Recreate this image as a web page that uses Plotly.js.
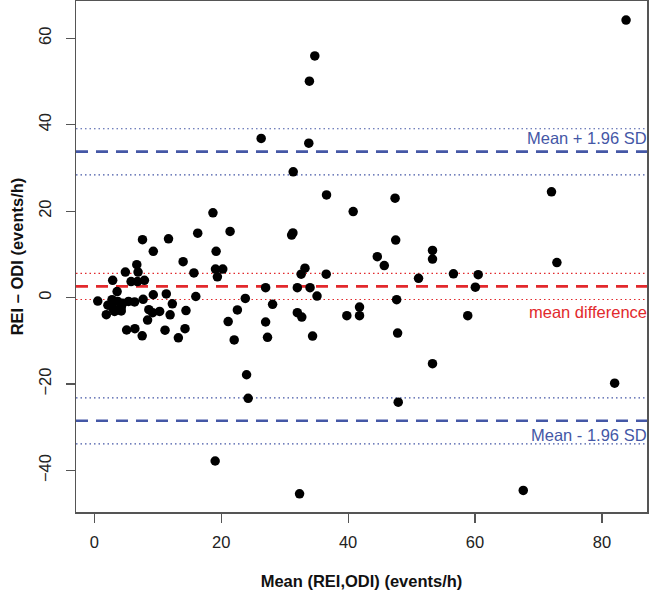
<!DOCTYPE html>
<html>
<head>
<meta charset="utf-8">
<script src="https://cdn.plot.ly/plotly-3.0.1.min.js"></script>
<style>html,body{margin:0;padding:0;background:#fff}</style>
</head>
<body>
<div id="chart" style="width:649px;height:592px"></div>
<script>
// Mean of REI and ODI (events/h)
const meanVals = [
  0.55, 1.9, 2.15, 2.8, 2.95, 3.2, 3.7, 4.25, 4.25, 4.5, 5.4, 6.35, 7.7,
  2.9, 3.6, 4.9, 5.8, 6.8, 7.9, 6.9, 6.7, 7.6, 9.3, 11.7, 14.0, 15.7, 16.3,
  9.3, 11.35, 16.0, 12.3, 8.6, 9.2, 10.3, 11.95, 14.45, 8.4, 5.1, 6.4, 7.55,
  11.15, 13.25, 14.3,
  18.7, 21.4, 19.2, 19.1, 20.25, 19.4, 19.05, 21.1, 22.05, 22.55, 23.8, 24.0, 24.25,
  26.3, 27.0, 27.0, 27.3, 28.1, 31.1, 31.3, 31.35, 32.0, 32.6, 33.2, 34.0, 35.1,
  32.0, 32.7, 34.4, 32.35, 33.8, 33.9, 34.75, 36.6, 36.55,
  40.8, 39.8, 41.8, 41.8, 44.6, 45.7, 47.4, 47.5, 47.65, 47.8, 47.9,
  51.1, 53.3, 53.3, 53.3, 56.6, 58.85, 60.5, 60.05, 67.6, 72.05, 72.9, 82.0, 83.8
];
// Difference REI - ODI (events/h)
const diffVals = [
  -0.8, -3.95, -1.75, -0.5, -2.5, -3.2, -0.9, -2.3, -3.1, -1.3, -0.9, -1.0, -0.4,
  4.0, 1.4, 5.9, 3.7, 3.7, 4.0, 5.9, 7.6, 13.4, 10.7, 13.6, 8.3, 5.7, 14.9,
  0.65, 0.85, 0.25, -1.45, -2.8, -3.5, -3.2, -4.0, -3.0, -5.2, -7.5, -7.2, -8.85,
  -7.55, -9.3, -7.2,
  19.6, 15.3, 10.7, 6.6, 6.6, 4.8, -37.8, -5.55, -9.8, -2.85, -0.2, -17.85, -23.3,
  36.8, 2.3, -5.65, -9.2, -1.55, 14.45, 14.95, 29.1, 2.3, 5.4, 6.8, 2.3, 0.35,
  -3.5, -4.5, -8.9, -45.4, 35.7, 50.05, 55.9, 23.75, 5.4,
  19.9, -4.2, -4.2, -2.2, 9.45, 7.4, 23.0, 13.3, -0.5, -8.2, -24.2,
  4.45, 10.9, 8.9, -15.3, 5.5, -4.2, 5.3, 2.4, -44.6, 24.45, 8.1, -19.8, 64.2
];

// Agreement statistics
const meanDiff = 2.6;
const meanCI = [-0.45, 5.6];
const upperLoA = 33.75;
const upperCI = [28.4, 39.05];
const lowerLoA = -28.5;
const lowerCI = [-33.85, -23.2];

const labelUpper = "Mean + 1.96 SD";
const labelMean = "mean difference";
const labelLower = "Mean - 1.96 SD";

const blue = "#4457a6";
const red = "#e2292c";

function hline(y, color, kind) {
  return {
    type: "line", xref: "paper", x0: 0, x1: 1, yref: "y", y0: y, y1: y,
    line: kind === "dash"
      ? {color: color, width: 2.6, dash: "12px,8px"}
      : {color: color, width: 1.2, dash: "1.5px,3px"},
    layer: "below"
  };
}

const shapes = [
  hline(upperCI[0], blue, "dot"), hline(upperCI[1], blue, "dot"), hline(upperLoA, blue, "dash"),
  hline(lowerCI[0], blue, "dot"), hline(lowerCI[1], blue, "dot"), hline(lowerLoA, blue, "dash"),
  hline(meanCI[0], red, "dot"), hline(meanCI[1], red, "dot"), hline(meanDiff, red, "dash")
];

const font = "Liberation Sans, Arial, Helvetica, sans-serif";

const annotations = [
  {xref: "paper", x: 1, xanchor: "right", xshift: 2, yref: "y", y: upperLoA, yanchor: "bottom", yshift: 3,
   text: labelUpper, showarrow: false, font: {family: font, size: 16.5, color: blue}},
  {xref: "paper", x: 1, xanchor: "right", xshift: 2, yref: "y", y: meanCI[0], yanchor: "top", yshift: -1,
   text: labelMean, showarrow: false, font: {family: font, size: 16.5, color: red}},
  {xref: "paper", x: 1, xanchor: "right", xshift: 2, yref: "y", y: lowerLoA, yanchor: "top", yshift: -3,
   text: labelLower, showarrow: false, font: {family: font, size: 16.5, color: blue}}
];

const trace = {
  x: meanVals, y: diffVals, type: "scatter", mode: "markers",
  marker: {color: "#000", size: 9.5, symbol: "circle"},
  hoverinfo: "x+y"
};

const axisCommon = {
  showgrid: false, zeroline: false, showline: true, mirror: true,
  linecolor: "#555", linewidth: 1.5,
  ticks: "outside", ticklen: 9, tickwidth: 1.2, tickcolor: "#555",
  tickfont: {family: font, size: 16.5, color: "#222"}
};

const layout = {
  width: 649, height: 592,
  margin: {l: 76, r: 2, t: 1, b: 80},
  paper_bgcolor: "#fff", plot_bgcolor: "#fff",
  showlegend: false,
  xaxis: Object.assign({}, axisCommon, {
    range: [-2.88, 87.1], tickvals: [0, 20, 40, 60, 80], ticklabelstandoff: 6,
    title: {text: "<b>Mean (REI,ODI) (events/h)</b>", standoff: 25,
            font: {family: font, size: 16.5, color: "#111"}}
  }),
  yaxis: Object.assign({}, axisCommon, {
    range: [-49.6, 68.6], tickvals: [-40, -20, 0, 20, 40, 60], tickangle: -90, ticklabelstandoff: 8,
    title: {text: "<b>REI – ODI (events/h)</b>", standoff: 8,
            font: {family: font, size: 16.5, color: "#111"}}
  }),
  shapes: shapes,
  annotations: annotations
};

Plotly.newPlot("chart", [trace], layout, {displayModeBar: false, staticPlot: true});
</script>
</body>
</html>
